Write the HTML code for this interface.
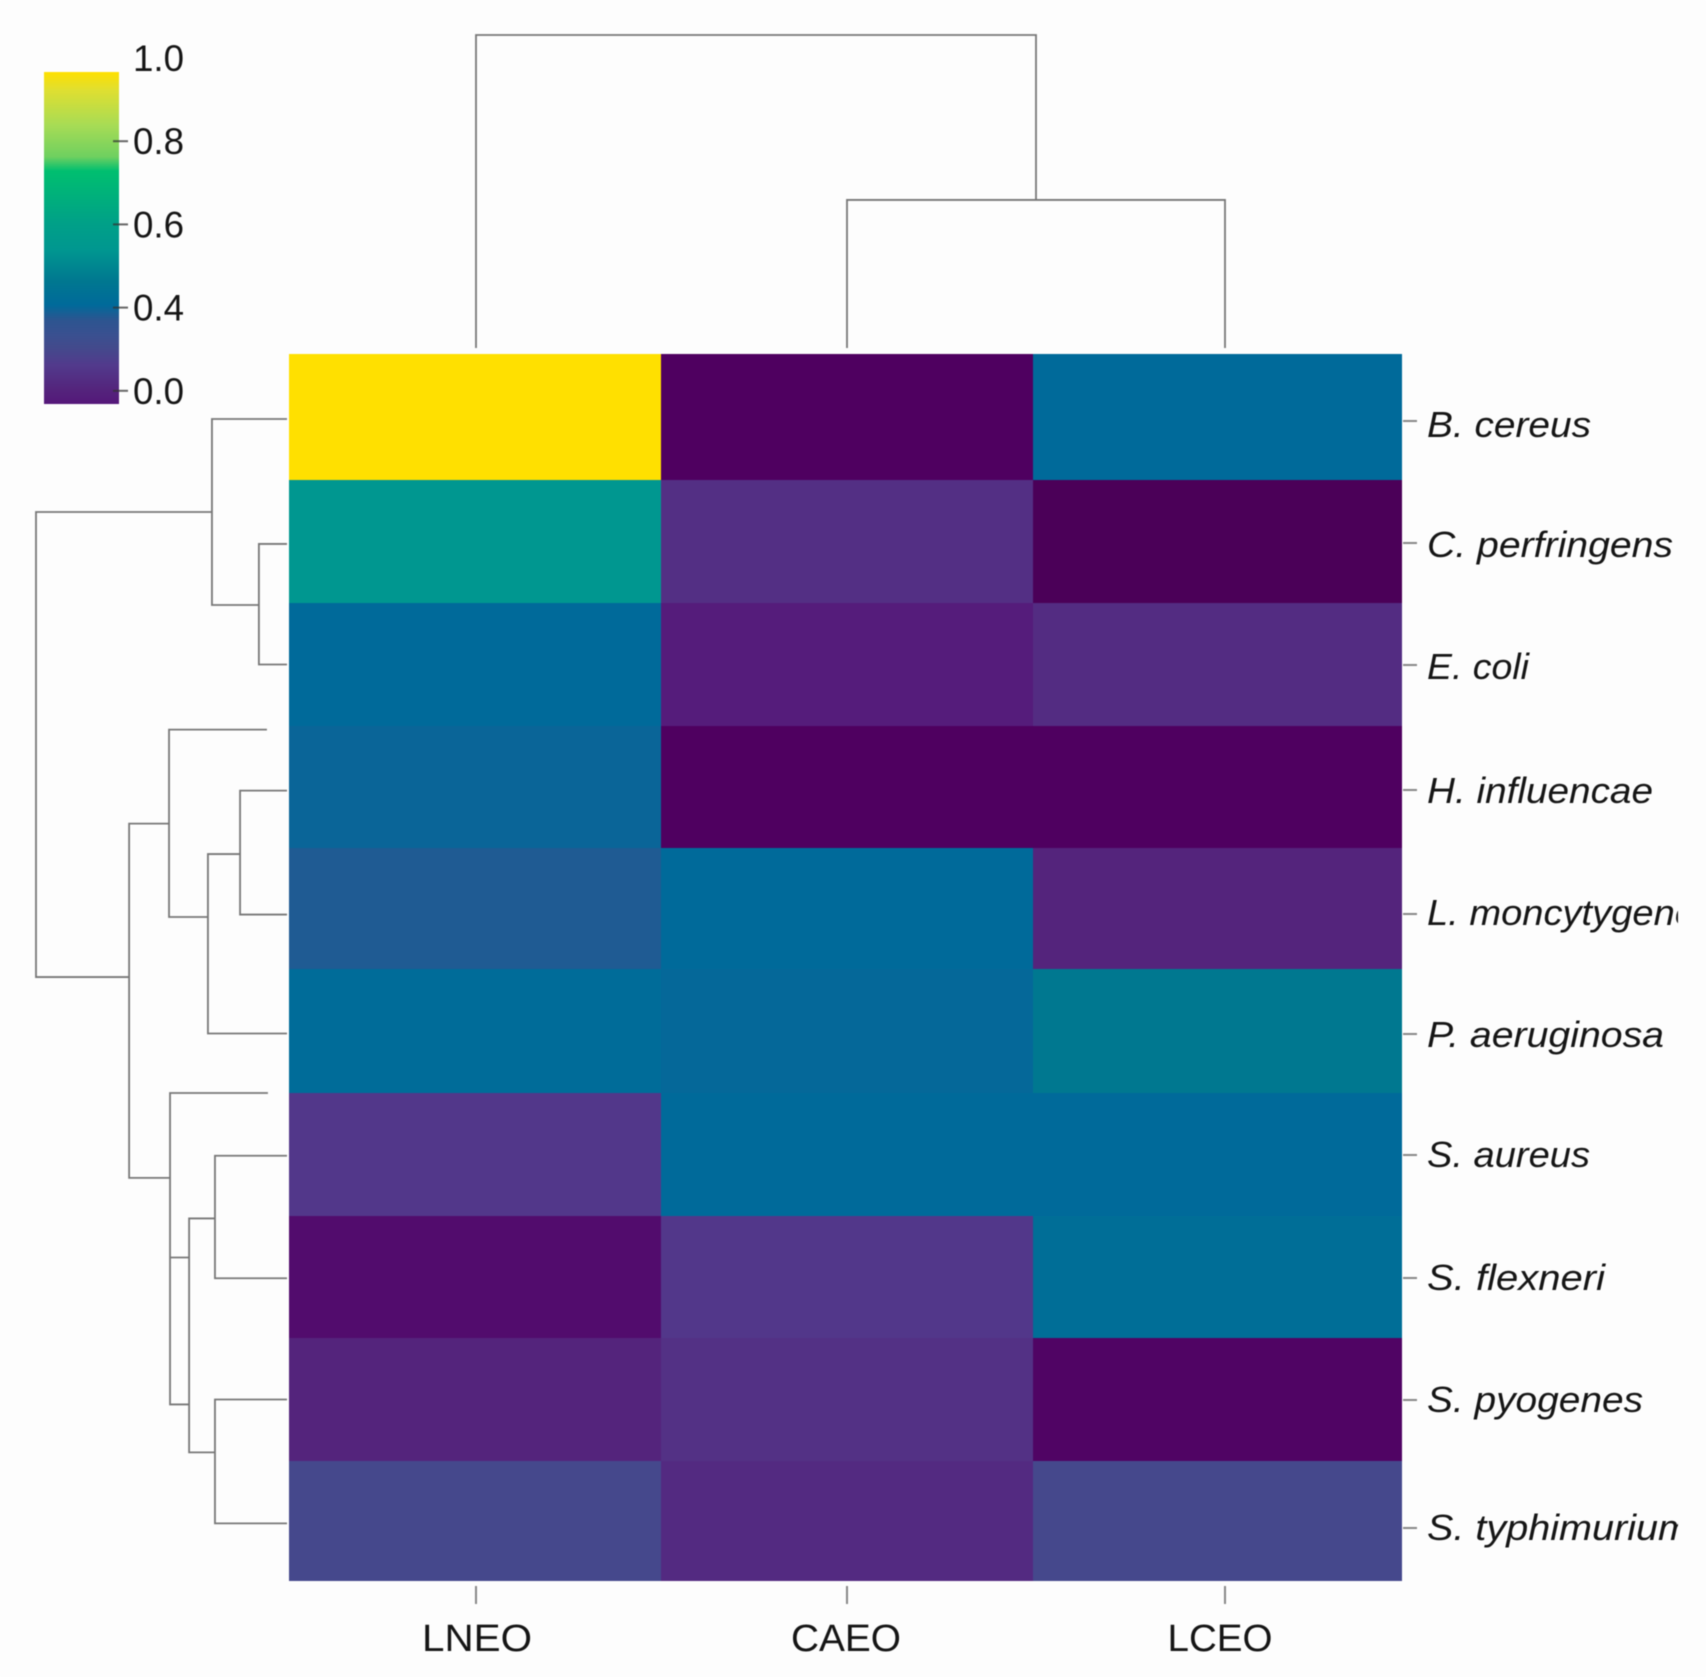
<!DOCTYPE html>
<html lang="en">
<head>
<meta charset="utf-8">
<title>Clustered heatmap of essential oil activity</title>
<style>
  html, body { margin: 0; padding: 0; background: #fdfdfd; }
  svg { display: block; filter: blur(0.5px); }
  text { font-family: "Liberation Sans", sans-serif; fill: #151515; }
</style>
</head>
<body>
<svg id="chart" xmlns="http://www.w3.org/2000/svg" width="1706" height="1677" viewBox="0 0 1706 1677">
  <rect x="0" y="0" width="1706" height="1677" fill="#fdfdfd"></rect>
  <defs>
    <linearGradient id="legendGradient" x1="0" y1="1" x2="0" y2="0"></linearGradient>
    <clipPath id="labelClip"><rect x="0" y="0" width="1678" height="1677"></rect></clipPath>
  </defs>
</svg>
<script>
// ---------- data ----------
const rowNames = ["B. cereus", "C. perfringens", "E. coli", "H. influencae", "L. moncytygenes", "P. aeruginosa", "S. aureus", "S. flexneri", "S. pyogenes", "S. typhimurium"];
const columnNames = ["LNEO", "CAEO", "LCEO"];
const valuesLNEO = [1.00, 0.50, 0.34, 0.33, 0.31, 0.35, 0.16, 0.045, 0.10, 0.215];
const valuesCAEO = [0.03, 0.135, 0.075, 0.03, 0.34, 0.335, 0.34, 0.16, 0.14, 0.12];
const valuesLCEO = [0.34, 0.00, 0.125, 0.03, 0.10, 0.41, 0.34, 0.36, 0.035, 0.215];
const legendTickLabels = ["1.0", "0.8", "0.6", "0.4", "0.0"];
// dendrogram merges: merge height, two arm positions, and the height each arm descends to
const rowMergeHeights = [100, 29.9, 11.2, 62.9, 47, 31.5, 18.7, 46.6, 46.6, 39, 28.7, 28.7];
const rowArmA = [1.26, 0.516, 1.52, 3.80, 3.03, 4.05, 3.53, 6.00, 7.34, 7.02, 6.51, 8.50];
const rowArmB = [5.065, 2.016, 2.50, 6.69, 4.57, 5.52, 4.55, 8.54, 7.34, 8.93, 7.51, 9.52];
const rowEndA = [29.9, 0, 0, 47, 8, 18.7, 0, 7.6, 39, 28.7, 0, 0];
const rowEndB = [62.9, 11.2, 0, 46.6, 31.5, 0, 0, 39, 39, 28.7, 0, 0];
const colMergeHeights = [100, 47.3];
const colArmA = [0, 1];
const colArmB = [1.5, 2];
const colEndA = [0, 0];
const colEndB = [47.3, 0];
// colour scale: value stops and their colours
const scaleStops = [0, 0.03, 0.06, 0.10, 0.17, 0.22, 0.255, 0.298, 0.34, 0.41, 0.496, 0.57, 0.72, 0.76, 0.85, 0.95, 1];
const scaleColors = ["#4b0058", "#4f0060", "#55177a", "#54247c", "#523a8c", "#434a8c", "#3a5090", "#2c5590", "#006a9a", "#007890", "#009790", "#00a088", "#00bf70", "#6fd060", "#a8dc55", "#e0df30", "#ffe000"];

// ---------- axis functions ----------
const cols = [valuesLNEO, valuesCAEO, valuesLCEO];
const svg = document.getElementById("chart");
const NS = "http://www.w3.org/2000/svg";
function make(tag, attrs, parent) {
  const el = document.createElementNS(NS, tag);
  for (const k in attrs) el.setAttribute(k, attrs[k]);
  (parent || svg).appendChild(el);
  return el;
}
function rowEdge(i) {
  const edges = [354, 480, 603, 726, 848, 969, 1093, 1216, 1338, 1461, 1581];
  const f = Math.min(Math.floor(i), 9);
  return edges[f] + (i - f) * (edges[f + 1] - edges[f]);
}
function colEdge(j) {
  const edges = [289, 661, 1033, 1402];
  return edges[j];
}
function rowTickY(i) {
  const offsets = [421, 543, 665, 790, 914, 1034, 1155, 1278, 1400, 1528];
  return offsets[i];
}
function rowBaseline(i) {
  const offsets = [437, 557, 679, 803, 925, 1047, 1167, 1290, 1412, 1540];
  return offsets[i];
}
function colTickX(p) {
  const anchors = [476, 847, 1225];
  const f = Math.min(Math.floor(p), 1);
  return anchors[f] + (p - f) * (anchors[f + 1] - anchors[f]);
}
function rowDendroX(d) { return 287 - d * 2.51; }
function colDendroY(d) { return 348 - d * 3.13; }
function hexToRgb(h) {
  return [parseInt(h.slice(1, 3), 16), parseInt(h.slice(3, 5), 16), parseInt(h.slice(5, 7), 16)];
}
function colorOf(v) {
  const t = Math.max(0, Math.min(1, v));
  let k = 0;
  while (k < scaleStops.length - 2 && t > scaleStops[k + 1]) k++;
  const f = (t - scaleStops[k]) / (scaleStops[k + 1] - scaleStops[k]);
  const a = hexToRgb(scaleColors[k]);
  const b = hexToRgb(scaleColors[k + 1]);
  return "rgb(" + a.map((c, n) => Math.round(c + (b[n] - c) * f)).join(",") + ")";
}

// ---------- legend ----------
const gradient = document.getElementById("legendGradient");
scaleStops.forEach((s, k) => {
  if (s < 0.06) return;
  make("stop", { offset: (s - 0.06) / 0.94, "stop-color": scaleColors[k] }, gradient);
});
const legendBar = make("rect", { x: 44, y: 72, width: 75, height: 332, fill: "url(#legendGradient)" });


legendTickLabels.forEach((label, k) => {
  const tickY = 58 + k * 83.2;
  if (k > 0) {
    const tick = make("line", { x1: 113, x2: 128, y1: tickY, y2: tickY, stroke: "#333", "stroke-width": 2, "stroke-opacity": 0.75 });
    
    
  }
  const text = make("text", { x: 133, y: tickY + 13, "font-size": 37, textLength: 51, lengthAdjust: "spacingAndGlyphs" });
  text.textContent = label;
  
  
});

// ---------- heatmap cells ----------
rowNames.forEach((name, i) => {
  columnNames.forEach((col, j) => {
    const cell = make("rect", {
      x: colEdge(j), y: rowEdge(i),
      width: colEdge(j + 1) - colEdge(j), height: rowEdge(i + 1) - rowEdge(i),
      fill: colorOf(cols[j][i])
    });
    
    
  });
});

// ---------- row dendrogram ----------
rowMergeHeights.forEach((h, k) => {
  const x = rowDendroX(h);
  const ya = rowEdge(rowArmA[k]);
  const yb = rowEdge(rowArmB[k]);
  const d = "M" + rowDendroX(rowEndA[k]) + " " + ya + "H" + x + "V" + yb + "H" + rowDendroX(rowEndB[k]);
  const link = make("path", { d: d, fill: "none", stroke: "#777", "stroke-width": 1.8 });
  
  
});

// ---------- column dendrogram ----------
colMergeHeights.forEach((h, k) => {
  const y = colDendroY(h);
  const xa = colTickX(colArmA[k]);
  const xb = colTickX(colArmB[k]);
  const d = "M" + xa + " " + colDendroY(colEndA[k]) + "V" + y + "H" + xb + "V" + colDendroY(colEndB[k]);
  const link = make("path", { d: d, fill: "none", stroke: "#777", "stroke-width": 1.8 });
  
  
});

// ---------- row labels ----------
const rowLabelGroup = make("g", { "clip-path": "url(#labelClip)" });


function rowLabelWidth(i) {
  const widths = [164, 246, 102, 226, 288, 237, 163, 178, 216, 264];
  return widths[i];
}
rowNames.forEach((name, i) => {
  const y = rowTickY(i);
  const tick = make("line", { x1: 1403, x2: 1417, y1: y, y2: y, stroke: "#888", "stroke-width": 2 });
  
  
  const text = make("text", { x: 1427, y: rowBaseline(i), "font-size": 36, "font-style": "italic", textLength: rowLabelWidth(i), lengthAdjust: "spacingAndGlyphs" }, rowLabelGroup);
  text.textContent = name;
  
  
});

// ---------- column labels ----------
columnNames.forEach((name, j) => {
  const x = colTickX(j);
  const tick = make("line", { x1: x, x2: x, y1: 1586, y2: 1604, stroke: "#888", "stroke-width": 2 });
  
  
  const text = make("text", { x: j === 0 ? 477 : (j === 1 ? 846 : 1220), y: 1651, "font-size": 38, "text-anchor": "middle", textLength: j === 2 ? 105 : 110, lengthAdjust: "spacingAndGlyphs" });
  text.textContent = name;
  
  
});
</script>
</body>
</html>
